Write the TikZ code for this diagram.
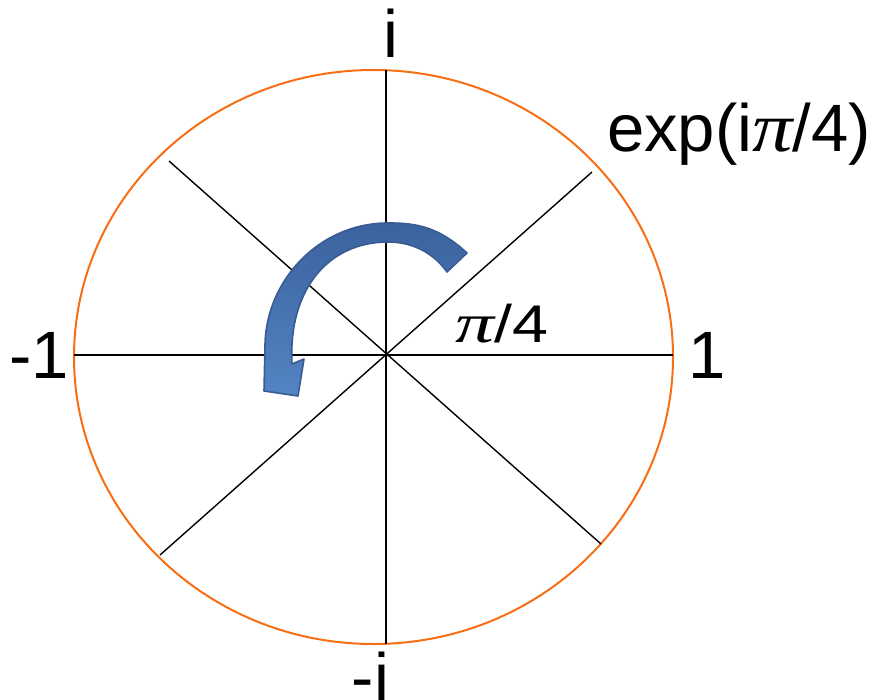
\documentclass[tikz,border=0pt]{standalone}
\usepackage{fontspec}
\setmainfont{Liberation Sans}
\newfontfamily\pifont{Liberation Serif}
\newcommand{\mypi}{\scalebox{1.2}[1.05]{\pifont\itshape π}}
\definecolor{orng}{RGB}{248,110,20}
\definecolor{arrowedge}{RGB}{56,92,145}
\definecolor{arrowtop}{RGB}{58,98,158}
\definecolor{arrowbot}{RGB}{84,132,196}
\tikzset{
  rim/.style={draw=orng, line width=2pt},
  spoke/.style={draw=black, line width=1.4pt},
  biglabel/.style={inner sep=0pt, font=\fontsize{67}{80}\selectfont},
  anglabel/.style={inner sep=0pt, font=\fontsize{53}{60}\selectfont},
  bluearrow/.style={draw=arrowedge, line width=1.6pt, line join=round, top color=arrowtop, bottom color=arrowbot}
}
\begin{document}
\begin{tikzpicture}[x=1pt,y=-1pt]
\useasboundingbox (0,0) rectangle (874,700);
% ellipse rim
\draw[rim] (373.5,357) ellipse [x radius=299.5pt, y radius=287pt];
% spoke end points
\coordinate (O) at (386,355);
\coordinate (W) at (74,355);
\coordinate (E) at (673,355);
\coordinate (N) at (386,70);
\coordinate (S) at (386,644);
\coordinate (UL) at (169,161);
\coordinate (LR) at (601,544);
\coordinate (UR) at (592,172);
\coordinate (LL) at (160,555);
\draw[spoke] (W) -- (E);
\draw[spoke] (N) -- (S);
\draw[spoke] (UL) -- (LR);
\draw[spoke] (UR) -- (LL);
% curved arrow
\path[bluearrow] (467,253) .. controls (440,228) and (418,223) .. (390,223)
  .. controls (320,222) and (266,280) .. (265,345)
  -- (264,391) -- (298,396) -- (304,359) -- (292,364)
  .. controls (288,290) and (328,242) .. (388,242)
  .. controls (415,242) and (435,255) .. (447,272) -- cycle;
% labels
\node[biglabel, anchor=base] (ltop) at (391,58) {i};
\node[biglabel, anchor=base] (lbot) at (370.5,700) {-i};
\node[biglabel, anchor=base west] (lleft) at (9,378) {-1};
\node[biglabel, anchor=base west] (lright) at (688,378) {1};
\node[biglabel, anchor=base west] (lexp) at (607,152) {exp(i\mypi/4)};
\node[anglabel, anchor=base west, xscale=1.22] (lang) at (455,342) {\mypi/4};
\end{tikzpicture}
\end{document}
